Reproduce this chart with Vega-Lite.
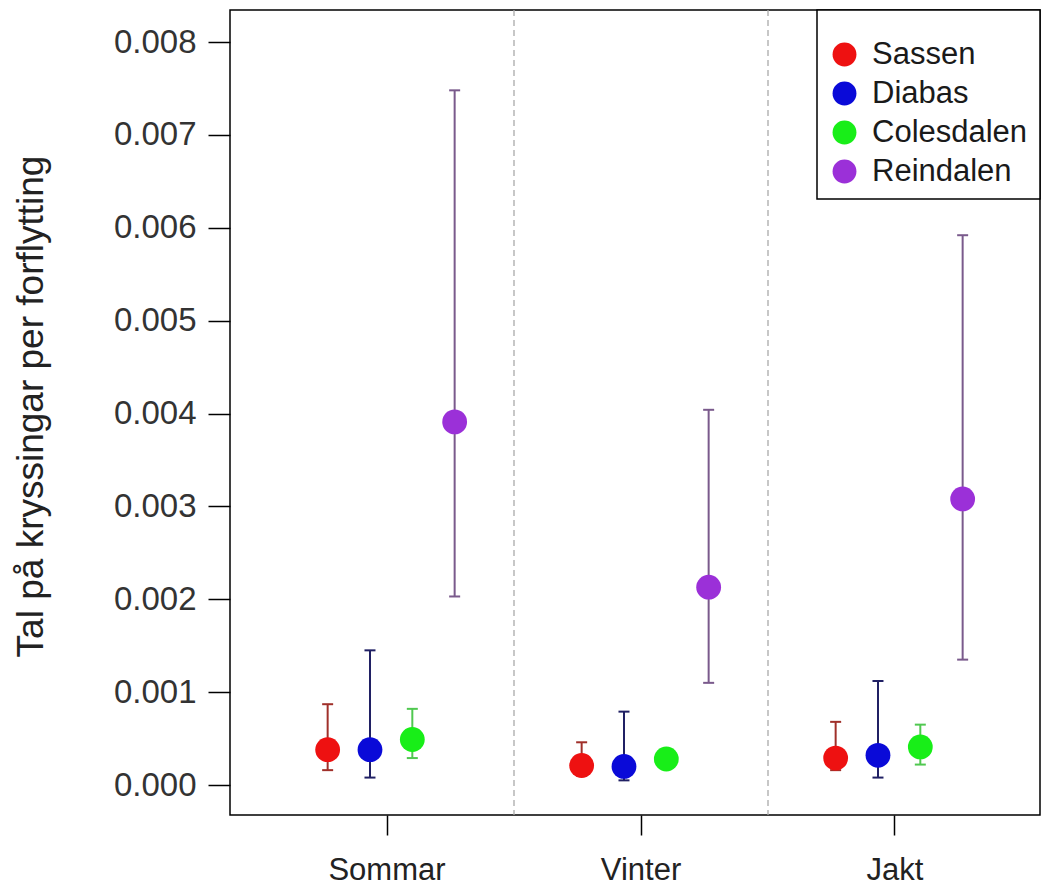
{
  "$schema": "https://vega.github.io/schema/vega-lite/v6.json",
  "width": 810,
  "height": 805,
  "autosize": {"type": "none"},
  "padding": {"left": 230, "top": 10, "right": 6, "bottom": 77},
  "background": "white",
  "config": {
    "font": "Liberation Sans",
    "view": {"stroke": "#000", "strokeWidth": 1.5},
    "axisX": {
      "domain": false, "grid": false, "tickColor": "#000", "tickWidth": 1.5, "tickSize": 20,
      "labelFontSize": 31, "labelColor": "#222", "labelPadding": 20, "labelAngle": 0
    },
    "axisY": {
      "domain": false, "grid": false, "tickColor": "#000", "tickWidth": 1.5, "tickSize": 22,
      "labelFontSize": 33, "labelColor": "#333", "labelPadding": 12,
      "titleFontSize": 37, "titleFontWeight": "normal", "titleColor": "#222",
      "titleX": -188, "titleY": 396, "titleBaseline": "alphabetic", "titleAlign": "center"
    },
    "legend": {
      "orient": "top-right", "offset": 0, "fillColor": "white", "strokeColor": "#000",
      "strokeWidth": 1.5, "padding": 12, "labelFontSize": 31, "labelColor": "#1a1a1a", "labelLimit": 400,
      "symbolSize": 570, "symbolType": "circle", "rowPadding": 7, "labelOffset": 12,
      "symbolStrokeWidth": 0, "cornerRadius": 0, "symbolOpacity": 1,
      "titleFontSize": 11, "titlePadding": 6, "titleColor": "white"
    }
  },
  "datasets": {
    "est": [
      {"season": "Sommar", "site": "Sassen", "mean": 0.00038, "lo": 0.00016, "hi": 0.00087},
      {"season": "Sommar", "site": "Diabas", "mean": 0.00038, "lo": 0.00008, "hi": 0.00145},
      {"season": "Sommar", "site": "Colesdalen", "mean": 0.00049, "lo": 0.00029, "hi": 0.00082},
      {"season": "Sommar", "site": "Reindalen", "mean": 0.00391, "lo": 0.00203, "hi": 0.00748},
      {"season": "Vinter", "site": "Sassen", "mean": 0.00021, "lo": 0.0001, "hi": 0.00046},
      {"season": "Vinter", "site": "Diabas", "mean": 0.0002, "lo": 0.00005, "hi": 0.00079},
      {"season": "Vinter", "site": "Colesdalen", "mean": 0.00028, "lo": 0.00018, "hi": 0.00038},
      {"season": "Vinter", "site": "Reindalen", "mean": 0.00213, "lo": 0.0011, "hi": 0.00404},
      {"season": "Jakt", "site": "Sassen", "mean": 0.00029, "lo": 0.00016, "hi": 0.00068},
      {"season": "Jakt", "site": "Diabas", "mean": 0.00032, "lo": 0.00008, "hi": 0.00112},
      {"season": "Jakt", "site": "Colesdalen", "mean": 0.00041, "lo": 0.00022, "hi": 0.00065},
      {"season": "Jakt", "site": "Reindalen", "mean": 0.00308, "lo": 0.00135, "hi": 0.00592}
    ],
    "seps": [{"season": "Vinter"}, {"season": "Jakt"}]
  },
  "layer": [
    {
      "data": {"name": "seps"},
      "mark": {"type": "rule", "color": "#aaaaaa", "strokeWidth": 1.3, "strokeDash": [6, 4]},
      "encoding": {
        "x": {"field": "season", "type": "nominal", "bandPosition": 0, "title": null,
              "scale": {"domain": ["Sommar", "Vinter", "Jakt"], "paddingInner": 0, "paddingOuter": 0.0945, "align": 0.625}}
      }
    },
    {
      "data": {"name": "est"},
      "mark": {"type": "rule", "strokeWidth": 2, "opacity": 1},
      "encoding": {
        "x": {"field": "season", "type": "nominal", "title": null},
        "xOffset": {"field": "site", "type": "nominal",
                    "scale": {"domain": ["Sassen", "Diabas", "Colesdalen", "Reindalen"], "paddingInner": 0, "paddingOuter": 1.342, "align": 0.549}},
        "y": {"field": "lo", "type": "quantitative", "title": "Tal på kryssingar per forflytting",
              "scale": {"domain": [-0.000323, 0.008345], "nice": false, "zero": false},
              "axis": {"values": [0, 0.001, 0.002, 0.003, 0.004, 0.005, 0.006, 0.007, 0.008], "format": ".3f"}},
        "y2": {"field": "hi"},
        "stroke": {"condition": [
          {"test": "datum.site === 'Sassen'", "value": "#a0302a"},
          {"test": "datum.site === 'Diabas'", "value": "#202064"},
          {"test": "datum.site === 'Colesdalen'", "value": "#50c850"}
        ], "value": "#7a5a8c"}
      }
    },
    {
      "data": {"name": "est"},
      "mark": {"type": "tick", "size": 11, "thickness": 2, "opacity": 1},
      "encoding": {
        "x": {"field": "season", "type": "nominal", "title": null},
        "xOffset": {"field": "site", "type": "nominal"},
        "y": {"field": "hi", "type": "quantitative", "title": "Tal på kryssingar per forflytting"},
        "fill": {"condition": [
          {"test": "datum.site === 'Sassen'", "value": "#a0302a"},
          {"test": "datum.site === 'Diabas'", "value": "#202064"},
          {"test": "datum.site === 'Colesdalen'", "value": "#50c850"}
        ], "value": "#7a5a8c"}
      }
    },
    {
      "data": {"name": "est"},
      "mark": {"type": "tick", "size": 11, "thickness": 2, "opacity": 1},
      "encoding": {
        "x": {"field": "season", "type": "nominal", "title": null},
        "xOffset": {"field": "site", "type": "nominal"},
        "y": {"field": "lo", "type": "quantitative", "title": "Tal på kryssingar per forflytting"},
        "fill": {"condition": [
          {"test": "datum.site === 'Sassen'", "value": "#a0302a"},
          {"test": "datum.site === 'Diabas'", "value": "#202064"},
          {"test": "datum.site === 'Colesdalen'", "value": "#50c850"}
        ], "value": "#7a5a8c"}
      }
    },
    {
      "data": {"name": "est"},
      "mark": {"type": "point", "shape": "circle", "filled": true, "size": 615, "opacity": 1},
      "encoding": {
        "x": {"field": "season", "type": "nominal", "title": null},
        "xOffset": {"field": "site", "type": "nominal"},
        "y": {"field": "mean", "type": "quantitative", "title": "Tal på kryssingar per forflytting"},
        "color": {"field": "site", "type": "nominal",
                  "scale": {"domain": ["Sassen", "Diabas", "Colesdalen", "Reindalen"], "range": ["#ee1111", "#0a0ad8", "#18ee18", "#9b30d8"]},
                  "legend": {"title": " ", "orient": "top-right"}}
      }
    }
  ]
}
